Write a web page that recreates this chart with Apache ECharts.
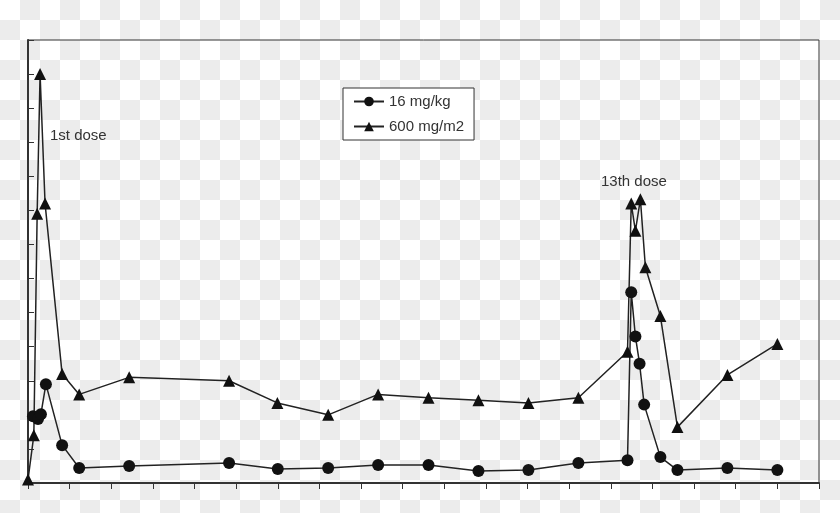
<!DOCTYPE html>
<html>
<head>
<meta charset="utf-8">
<script src="https://cdn.jsdelivr.net/npm/echarts@6/dist/echarts.min.js"></script>
<style>
  html, body { margin: 0; padding: 0; }
  body {
    width: 840px; height: 513px;
    background-color: #fff;
    background-image: conic-gradient(#ececec 25%, #fff 0 50%, #ececec 0 75%, #fff 0);
    background-size: 40px 40px;
  }
  #chart { width: 840px; height: 513px; }
</style>
</head>
<body>
<div id="chart"></div>
<script>
// x in tick units (19 ticks along the bottom), y in tick units (13 ticks)
const doseKg = [
  [0.12, 1.96], [0.24, 1.88], [0.31, 2.02], [0.43, 2.9], [0.82, 1.11], [1.23, 0.44],
  [2.43, 0.5], [4.83, 0.59], [6.0, 0.41], [7.21, 0.44], [8.41, 0.53], [9.62, 0.53],
  [10.82, 0.35], [12.02, 0.38], [13.22, 0.59], [14.4, 0.67], [14.49, 5.6], [14.59, 4.3],
  [14.69, 3.5], [14.8, 2.3], [15.19, 0.76], [15.6, 0.38], [16.8, 0.44], [18.0, 0.38]
];
const doseM2 = [
  [0, 0.1], [0.14, 1.4], [0.22, 7.9], [0.29, 12.0], [0.41, 8.2], [0.82, 3.2], [1.23, 2.6],
  [2.43, 3.1], [4.83, 3.0], [5.99, 2.35], [7.21, 2.0], [8.41, 2.6], [9.62, 2.5],
  [10.82, 2.43], [12.02, 2.35], [13.22, 2.5], [14.4, 3.85], [14.49, 8.2], [14.59, 7.4],
  [14.71, 8.33], [14.83, 6.33], [15.19, 4.9], [15.6, 1.64], [16.8, 3.17], [18.0, 4.08]
];
const seriesNames = ['16 mg/kg', '600 mg/m2'];

const chart = echarts.init(document.getElementById('chart'));
const lineStyle = { color: '#222', width: 1.5 };
chart.setOption({
  animation: false,
  grid: { left: 28, right: 21, top: 40, bottom: 30, show: true, borderColor: '#333', borderWidth: 1 },
  legend: {
    left: 343, top: 88, orient: 'vertical', itemGap: 10,
    backgroundColor: '#fff', borderColor: '#333', borderWidth: 1, padding: [6, 10],
    textStyle: { fontFamily: 'Liberation Sans', fontSize: 15, color: '#333' },
    itemWidth: 30, itemHeight: 12,
    data: seriesNames
  },
  xAxis: {
    type: 'value', min: 0, max: 19, interval: 1,
    axisLine: { lineStyle: { color: '#333', width: 2 } },
    axisTick: { show: true, inside: false, length: 6, lineStyle: { color: '#333' } },
    axisLabel: { show: false }, splitLine: { show: false }
  },
  yAxis: {
    type: 'value', min: 0, max: 13, interval: 1,
    axisLine: { show: true, lineStyle: { color: '#333', width: 2 } },
    axisTick: { show: true, inside: true, length: 6, lineStyle: { color: '#333' } },
    axisLabel: { show: false }, splitLine: { show: false }
  },
  graphic: [
    { type: 'text', left: 50, top: 128, style: { text: '1st dose', fontFamily: 'Liberation Sans', fontSize: 15, fill: '#333' } },
    { type: 'text', left: 601, top: 174, style: { text: '13th dose', fontFamily: 'Liberation Sans', fontSize: 15, fill: '#333' } }
  ],
  series: [
    {
      name: seriesNames[0], type: 'line', data: doseKg, symbol: 'circle', symbolSize: 12,
      lineStyle, itemStyle: { color: '#111' }
    },
    {
      name: seriesNames[1], type: 'line', data: doseM2, symbol: 'triangle', symbolSize: 12,
      lineStyle, itemStyle: { color: '#111' }
    }
  ]
});
</script>
</body>
</html>
